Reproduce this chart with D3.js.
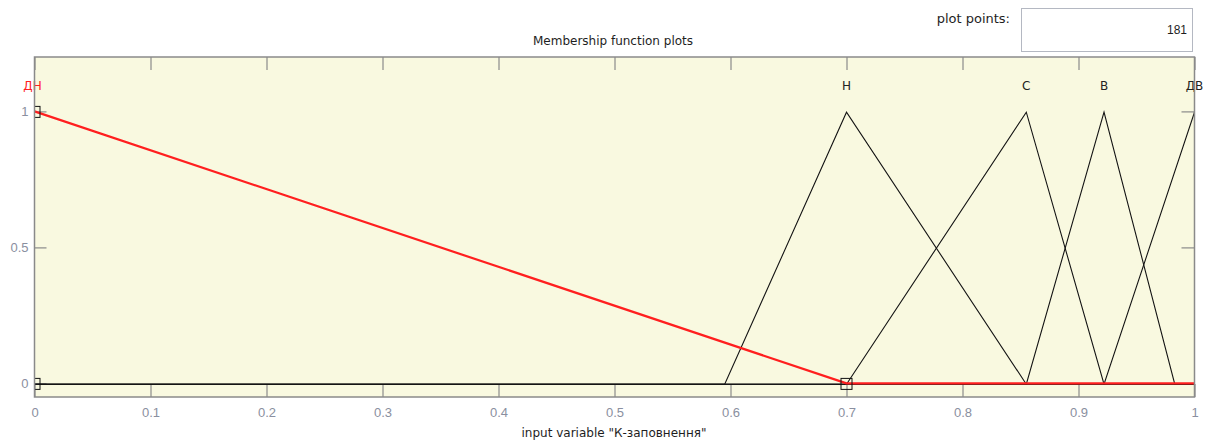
<!DOCTYPE html>
<html>
<head>
<meta charset="utf-8">
<script src="https://cdn.jsdelivr.net/npm/d3@7"></script>
<style>
  html, body { margin: 0; padding: 0; background: #ffffff; }
  svg { display: block; font-family: "Liberation Sans", Arial, sans-serif; }
  .ui { font-family: "DejaVu Sans", Verdana, sans-serif; }
</style>
</head>
<body>
<svg id="chart" width="1212" height="443"></svg>
<script>
// Membership functions of the input variable "К-заповнення" (triangular: left foot, peak, right foot)
const mfNames  = ["ДН", "Н", "С", "В", "ДВ"];
const mfLeft   = [0,     0.595, 0.7,   0.855, 0.922];
const mfPeak   = [0,     0.7,   0.855, 0.922, 1.0];
const mfRight  = [0.7,   0.855, 0.922, 0.983, 1.0];
const selectedMf = "ДН";

const xTicks = [0, 0.1, 0.2, 0.3, 0.4, 0.5, 0.6, 0.7, 0.8, 0.9, 1];
const yTicks = [0, 0.5, 1];
const plotPoints = 181;

const svg = d3.select("#chart");
const plotLeft = 34.5, plotRight = 1194.5, plotTop = 57, plotBottom = 397;

const x = d3.scaleLinear().domain([0, 1]).range([plotLeft, plotRight]);
const y = d3.scaleLinear().domain([-0.05, 1.2]).range([plotBottom, plotTop]);

// plot background
svg.append("rect")
  .attr("x", plotLeft).attr("y", plotTop)
  .attr("width", plotRight - plotLeft).attr("height", plotBottom - plotTop)
  .attr("fill", "#f9f9e0");

svg.append("defs").append("clipPath").attr("id", "plotClip")
  .append("rect")
  .attr("x", plotLeft).attr("y", plotTop)
  .attr("width", plotRight - plotLeft).attr("height", plotBottom - plotTop);

// axes with inward ticks on all four sides
const tickColor = "#8a8a8a";
const labelColor = "#8a8fa0";
function styleAxis(g) {
  g.select(".domain").remove();
  g.selectAll(".tick line").attr("stroke", tickColor).attr("stroke-width", 1.2);
  g.selectAll(".tick text").attr("fill", labelColor).style("font-size", "13px");
}
svg.append("g")
  .attr("transform", `translate(0,${plotBottom})`)
  .call(d3.axisBottom(x).tickValues(xTicks).tickFormat(d3.format("~g")).tickSize(-13).tickPadding(11))
  .call(styleAxis);
svg.append("g")
  .attr("transform", `translate(0,${plotTop})`)
  .call(d3.axisTop(x).tickValues(xTicks).tickFormat("").tickSize(-13))
  .call(styleAxis);
svg.append("g")
  .attr("transform", `translate(${plotLeft},0)`)
  .call(d3.axisLeft(y).tickValues(yTicks).tickFormat(d3.format("~g")).tickSize(-12).tickPadding(6))
  .call(styleAxis);
svg.append("g")
  .attr("transform", `translate(${plotRight},0)`)
  .call(d3.axisRight(y).tickValues(yTicks).tickFormat("").tickSize(-13))
  .call(styleAxis);

// membership value of a triangle at position v
function tri(v, a, b, c) {
  if (v === b) return 1;
  if (v < a || v > c) return 0;
  if (v < b) return (v - a) / (b - a);
  return (c - v) / (c - b);
}

// polyline through the triangle's corners across the whole [0, 1] universe
function mfPoints(i) {
  const a = mfLeft[i], b = mfPeak[i], c = mfRight[i];
  if (a === b && b === 0) return [[0, 1], [c, 0], [1, 0]];
  const xs = [0, a, b, c, 1].filter(v => v >= 0 && v <= 1);
  return Array.from(new Set(xs)).sort((p, q) => p - q).map(v => [v, tri(v, a, b, c)]);
}

const line = d3.line().x(d => x(d[0])).y(d => y(d[1]));
const plot = svg.append("g").attr("clip-path", "url(#plotClip)");

const blackG = plot.append("g").attr("transform", "translate(0,0.8)");
mfNames.forEach((name, i) => {
  if (name === selectedMf) return;
  blackG.append("path")
    .attr("d", line(mfPoints(i)))
    .attr("fill", "none")
    .attr("stroke", "#141414")
    .attr("stroke-width", 1.1);
});

const si = mfNames.indexOf(selectedMf);
plot.append("path")
  .attr("d", line(mfPoints(si)))
  .attr("fill", "none")
  .attr("stroke", "#ff1f1f")
  .attr("stroke-width", 2.2)
  .attr("stroke-linejoin", "round");

// vertex handles of the selected function
const handles = [[mfLeft[si], 0], [mfPeak[si], 1], [mfRight[si], 0]];
plot.selectAll("rect.handle").data(handles).join("rect")
  .attr("class", "handle")
  .attr("x", d => x(d[0]) - 5.5)
  .attr("y", d => y(d[1]) - 5)
  .attr("width", 11).attr("height", 11)
  .attr("fill", "none")
  .attr("stroke", "#111")
  .attr("stroke-width", 1);

// function names above the peaks
svg.selectAll("text.mfname").data(mfNames).join("text")
  .attr("class", "mfname ui")
  .attr("x", (d, i) => x(mfPeak[i]) - (i === 0 ? 2 : 0))
  .attr("y", y(1.1) + 1.5)
  .attr("dy", "0.35em")
  .attr("text-anchor", "middle")
  .attr("fill", d => d === selectedMf ? "#ff1f1f" : "#222")
  .style("font-size", "12px")
  .text(d => d);

// plot frame
svg.append("rect")
  .attr("x", plotLeft).attr("y", plotTop)
  .attr("width", plotRight - plotLeft).attr("height", plotBottom - plotTop)
  .attr("fill", "none")
  .attr("stroke", "#8a8a8a")
  .attr("stroke-width", 1.5);

// titles
svg.append("text")
  .attr("class", "ui")
  .attr("x", 613).attr("y", 41).attr("dy", "0.35em")
  .attr("text-anchor", "middle").attr("fill", "#1e1e1e")
  .style("font-size", "12px")
  .text("Membership function plots");

svg.append("text")
  .attr("class", "ui")
  .attr("x", 614).attr("y", 433).attr("dy", "0.35em")
  .attr("text-anchor", "middle").attr("fill", "#1e1e1e")
  .style("font-size", "12px")
  .text('input variable "К-заповнення"');

// plot points field
svg.append("text")
  .attr("class", "ui")
  .attr("x", 1010).attr("y", 18).attr("dy", "0.35em")
  .attr("text-anchor", "end").attr("fill", "#1e1e1e")
  .style("font-size", "13px")
  .text("plot points:");
svg.append("rect")
  .attr("x", 1021.5).attr("y", 8.5)
  .attr("width", 171).attr("height", 43)
  .attr("fill", "#ffffff")
  .attr("stroke", "#b4b8c2")
  .attr("stroke-width", 1);
svg.append("text")
  .attr("x", 1187).attr("y", 30).attr("dy", "0.35em")
  .attr("text-anchor", "end").attr("fill", "#1e1e1e")
  .style("font-size", "12px")
  .text(plotPoints);
</script>
</body>
</html>
